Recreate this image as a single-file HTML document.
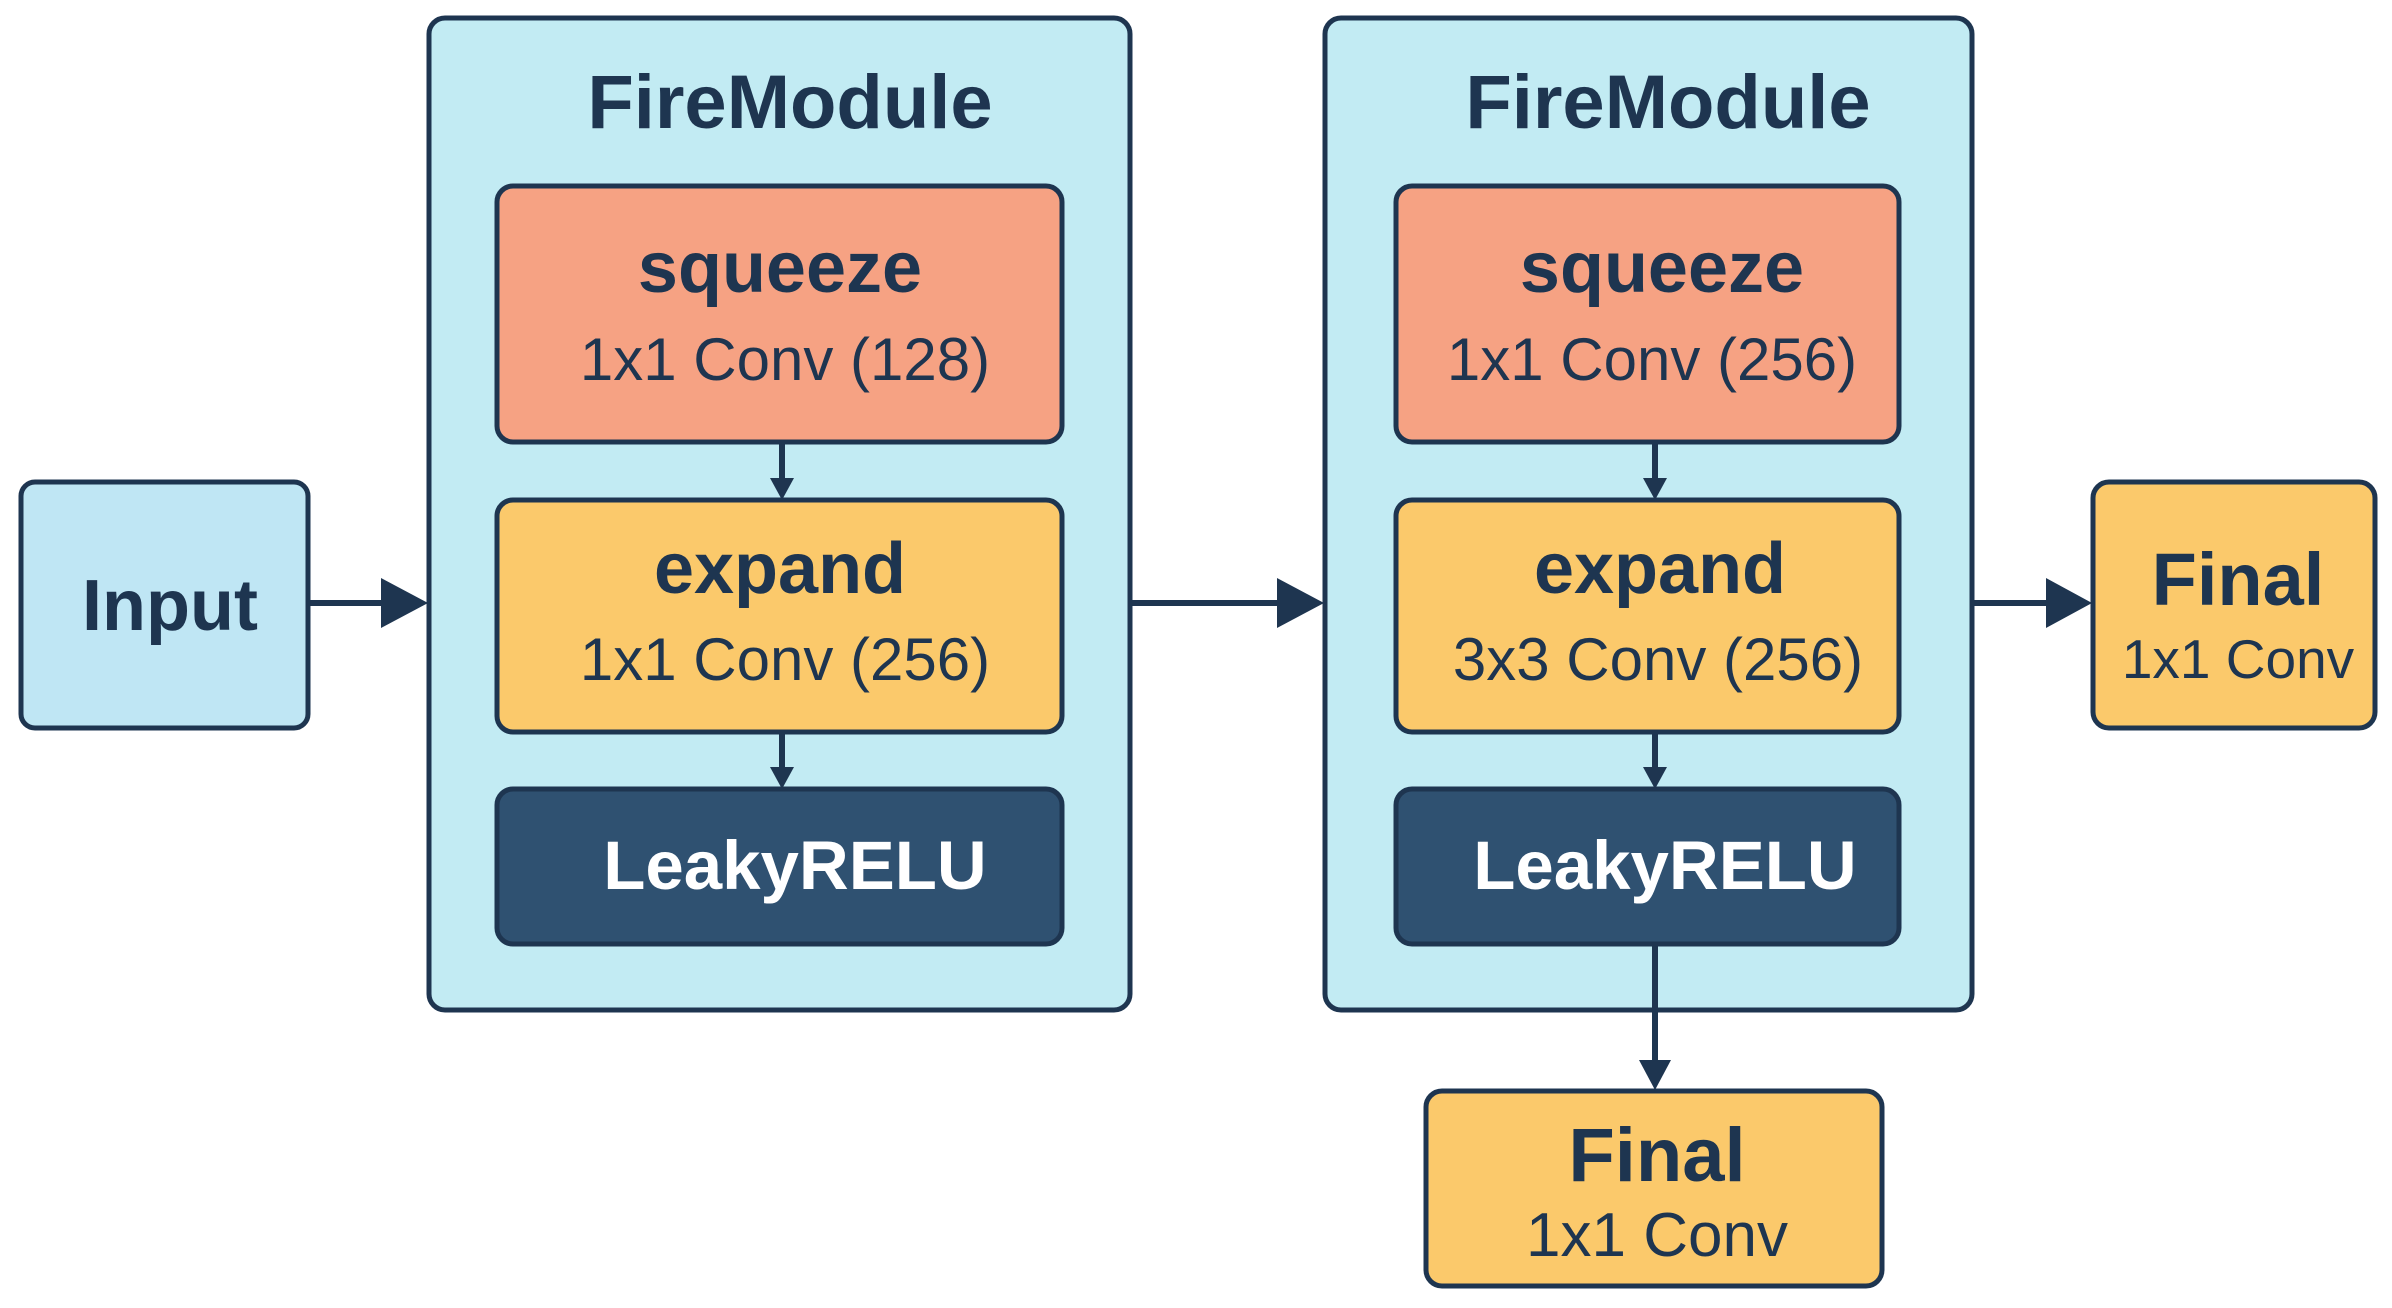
<!DOCTYPE html>
<html><head><meta charset="utf-8"><style>
body{margin:0;width:2392px;height:1303px;background:#fff;overflow:hidden;font-family:"Liberation Sans",sans-serif;}
</style></head><body>
<svg width="2392" height="1303" viewBox="0 0 2392 1303" xmlns="http://www.w3.org/2000/svg">
<g stroke="#1e3550" stroke-width="5">
<rect x="21" y="482" width="287" height="246" rx="14" fill="#bfe6f4"/>
<rect x="429" y="18" width="701" height="992" rx="16" fill="#c2ebf3"/>
<rect x="1325" y="18" width="647" height="992" rx="16" fill="#c2ebf3"/>
<rect x="497" y="186" width="565" height="256" rx="16" fill="#f6a283"/>
<rect x="497" y="500" width="565" height="232" rx="16" fill="#fbc96b"/>
<rect x="497" y="789" width="565" height="155" rx="16" fill="#2f5171"/>
<rect x="1396" y="186" width="503" height="256" rx="16" fill="#f6a283"/>
<rect x="1396" y="500" width="503" height="232" rx="16" fill="#fbc96b"/>
<rect x="1396" y="789" width="503" height="155" rx="16" fill="#2f5171"/>
<rect x="2093" y="482" width="282" height="246" rx="16" fill="#fbc96b"/>
<rect x="1426" y="1091" width="456" height="195" rx="16" fill="#fbc96b"/>
</g>
<g stroke="#1e3550" stroke-width="6">
<line x1="308" y1="603" x2="390" y2="603"/>
<line x1="1130" y1="603" x2="1290" y2="603"/>
<line x1="1972" y1="603" x2="2055" y2="603"/>
<line x1="782" y1="442" x2="782" y2="482"/>
<line x1="782" y1="732" x2="782" y2="770"/>
<line x1="1655" y1="442" x2="1655" y2="482"/>
<line x1="1655" y1="732" x2="1655" y2="770"/>
<line x1="1655" y1="944" x2="1655" y2="1065"/>
</g>
<g fill="#1e3550">
<polygon points="381,578 428,603 381,628"/>
<polygon points="1277,578 1324,603 1277,628"/>
<polygon points="2046,578 2092,603 2046,628"/>
<polygon points="770,478 794,478 782,500"/>
<polygon points="770,767 794,767 782,789"/>
<polygon points="1643,478 1667,478 1655,500"/>
<polygon points="1643,767 1667,767 1655,789"/>
<polygon points="1639,1060 1671,1060 1655,1090"/>
</g>
<g fill="#1e3550" font-weight="bold" text-anchor="middle">
<text x="170" y="630" font-size="72">Input</text>
<text x="790" y="128" font-size="76">FireModule</text>
<text x="1668" y="128" font-size="76">FireModule</text>
<text x="780" y="292" font-size="72">squeeze</text>
<text x="785" y="380" font-size="60" font-weight="normal">1x1 Conv (128)</text>
<text x="780" y="593" font-size="72">expand</text>
<text x="785" y="680" font-size="60" font-weight="normal">1x1 Conv (256)</text>
<text x="1662" y="292" font-size="72">squeeze</text>
<text x="1652" y="380" font-size="60" font-weight="normal">1x1 Conv (256)</text>
<text x="1660" y="593" font-size="72">expand</text>
<text x="1658" y="680" font-size="60" font-weight="normal">3x3 Conv (256)</text>
<text x="2238" y="605" font-size="74">Final</text>
<text x="2238" y="678" font-size="55" font-weight="normal">1x1 Conv</text>
<text x="1657" y="1181" font-size="76">Final</text>
<text x="1657" y="1256" font-size="62" font-weight="normal">1x1 Conv</text>
</g>
<g fill="#fff" font-weight="bold" text-anchor="middle" font-size="69">
<text x="795" y="889">LeakyRELU</text>
<text x="1665" y="889">LeakyRELU</text>
</g>
</svg>
</body></html>
